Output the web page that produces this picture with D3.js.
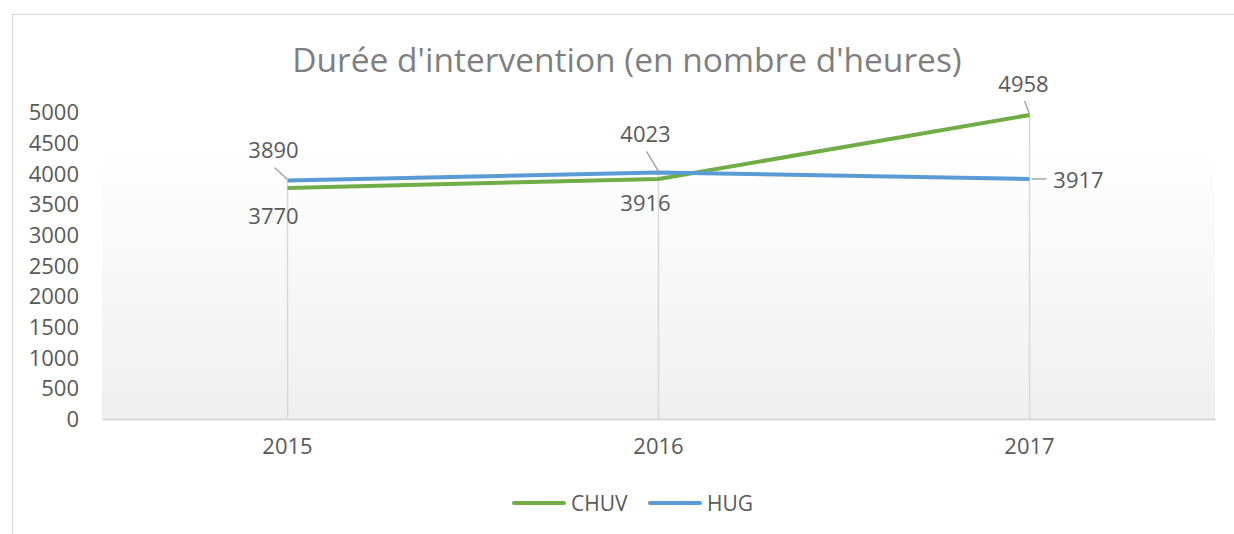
<!DOCTYPE html>
<html><head><meta charset="utf-8">
<script src="https://cdn.jsdelivr.net/npm/d3@7"></script>
<style>body{margin:0;background:#fff}svg{display:block}</style>
</head><body>
<svg id="c" width="1234" height="534"></svg>
<script>
const categories = ["2015", "2016", "2017"];
const seriesNames = ["CHUV", "HUG"];
const chuvValues = [3770, 3916, 4958];
const hugValues = [3890, 4023, 3917];
const yTicks = [0, 500, 1000, 1500, 2000, 2500, 3000, 3500, 4000, 4500, 5000];
const titleText = "Durée d'intervention (en nombre d'heures)";

const colors = {CHUV: "#70ad47", HUG: "#5b9bd5"};
const series = [
  {name: "CHUV", values: chuvValues},
  {name: "HUG", values: hugValues}
];
// label placement (offsets from point), leader lines
const labelPlacement = {
  CHUV: [{dx: -14, dy: 28, leader: false}, {dx: -13, dy: 24, leader: false}, {dx: -6, dy: -31, leader: true}],
  HUG: [{dx: -14, dy: -30, leader: true}, {dx: -13, dy: -38, leader: true}, {dx: 49, dy: 1, leader: true, side: true}]
};

const svg = d3.select("#c");
const font = "'Open Sans', sans-serif";
const M = {left: 102, right: 1215, top: 100, bottom: 419};

// outer border
svg.append("path").attr("d", "M12.5,534 L12.5,14.5 L1234,14.5").attr("fill", "none")
  .attr("stroke", "#d9d9d9").attr("stroke-width", 1.2);

const defs = svg.append("defs");
const grad = defs.append("linearGradient").attr("id", "bg").attr("x1", 0).attr("y1", 0).attr("x2", 0).attr("y2", 1);
grad.append("stop").attr("offset", "0%").attr("stop-color", "#ffffff");
grad.append("stop").attr("offset", "15%").attr("stop-color", "#ffffff");
grad.append("stop").attr("offset", "100%").attr("stop-color", "#efefef");

svg.append("rect").attr("x", M.left).attr("y", M.top).attr("width", M.right - M.left)
  .attr("height", M.bottom - M.top).attr("fill", "url(#bg)");

const x = d3.scaleBand().domain(categories).range([M.left, M.right]);
const y = d3.scaleLinear().domain([0, 5000]).range([M.bottom, M.bottom - 306.5]);
const cx = c => x(c) + x.bandwidth() / 2;

// title
svg.append("text").attr("x", 627).attr("y", 72).attr("text-anchor", "middle")
  .attr("font-family", font).attr("font-size", 33.5).attr("fill", "#7f7f7f").text(titleText);

// y axis labels
const yAxis = d3.axisLeft(y).tickValues(yTicks).tickFormat(d3.format("d")).tickSize(0).tickPadding(0);
const gy = svg.append("g").attr("transform", "translate(79,0)").call(yAxis);
gy.select(".domain").remove();
gy.selectAll("text").attr("font-family", font).attr("font-size", 22).attr("fill", "#595959").attr("dy", "0.34em");

// drop lines
categories.forEach((c, i) => {
  const mx = d3.max(series, s => s.values[i]);
  svg.append("line").attr("x1", cx(c)).attr("x2", cx(c)).attr("y1", y(mx)).attr("y2", y(0))
    .attr("stroke", "#d9d9d9").attr("stroke-width", 1.5);
});

// x axis
const xAxis = d3.axisBottom(x).tickSize(0).tickPadding(0);
const gx = svg.append("g").attr("transform", `translate(0,${M.bottom})`).call(xAxis);
gx.select(".domain").attr("stroke", "#d9d9d9").attr("stroke-width", 2);
gx.selectAll("text").attr("font-family", font).attr("font-size", 22).attr("fill", "#595959").attr("dy", "1.05em").attr("y", 12);

// lines
const line = d3.line().x((d, i) => cx(categories[i])).y(d => y(d));
series.forEach(s => {
  svg.append("path").datum(s.values).attr("d", line).attr("fill", "none")
    .attr("stroke", colors[s.name]).attr("stroke-width", 4).attr("stroke-linejoin", "round");
});

// data labels
series.forEach(s => {
  s.values.forEach((v, i) => {
    const px = cx(categories[i]), py = y(v);
    const p = labelPlacement[s.name][i];
    const lx = px + p.dx, ly = py + p.dy;
    if (p.leader) {
      if (p.side) {
        svg.append("line").attr("x1", px + 2).attr("y1", py).attr("x2", lx - 32).attr("y2", py)
          .attr("stroke", "#a6a6a6").attr("stroke-width", 1.5);
      } else {
        svg.append("line").attr("x1", lx + 1).attr("y1", ly + 17).attr("x2", px).attr("y2", py - 1)
          .attr("stroke", "#a6a6a6").attr("stroke-width", 1.5);
      }
    }
    svg.append("text").attr("x", lx).attr("y", ly).attr("dy", "0.36em").attr("text-anchor", "middle")
      .attr("font-family", font).attr("font-size", 22).attr("fill", "#595959").text(v);
  });
});

// legend
const legendItems = [{name: "CHUV", x: 512}, {name: "HUG", x: 648}];
const lg = svg.append("g");
legendItems.forEach(it => {
  lg.append("line").attr("x1", it.x + 2).attr("x2", it.x + 52).attr("y1", 503).attr("y2", 503)
    .attr("stroke", colors[it.name]).attr("stroke-width", 4).attr("stroke-linecap", "round");
  lg.append("text").attr("x", it.x + 59).attr("y", 503).attr("dy", "0.36em")
    .attr("font-family", font).attr("font-size", 21).attr("fill", "#595959").text(it.name);
});
</script>
</body></html>
